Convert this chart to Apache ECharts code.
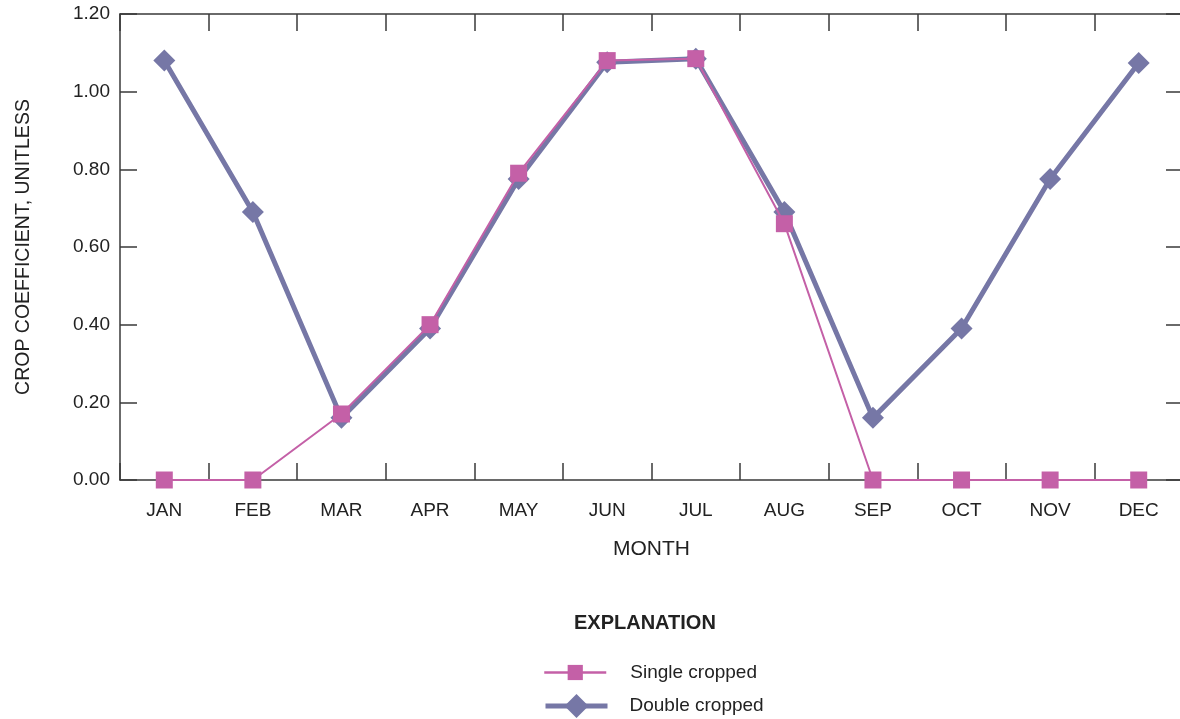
<!DOCTYPE html>
<html><head><meta charset="utf-8">
<script src="https://cdn.jsdelivr.net/npm/echarts@6/dist/echarts.min.js"></script>
<style>html,body{margin:0;padding:0;background:#fff}#c{width:1180px;height:719px}</style>
</head><body><div id="c"></div>
<script>
const months = ['JAN','FEB','MAR','APR','MAY','JUN','JUL','AUG','SEP','OCT','NOV','DEC'];
const singleCropped = [0, 0, 0.17, 0.40, 0.79, 1.08, 1.085, 0.66, 0, 0, 0, 0];
const doubleCropped = [1.08, 0.69, 0.16, 0.39, 0.775, 1.076, 1.085, 0.69, 0.16, 0.39, 0.775, 1.074];
const yTicks = {min: 0, max: 1.2, interval: 0.2};

const FONT = '"Liberation Sans Narrow", "Arial Narrow", "Liberation Sans", sans-serif';
const PINK = '#c460a7';
const PURPLE = '#7677a6';
const AX = '#3a3a3a';

const chart = echarts.init(document.getElementById('c'));
chart.setOption({
  animation: false,
  backgroundColor: '#fff',
  grid: {left: 120, top: 14, width: 1063, height: 466, containLabel: false, outerBoundsMode: 'none'},
  xAxis: [
    {type: 'category', data: months, position: 'bottom', boundaryGap: true,
     name: 'MONTH', nameLocation: 'middle', nameGap: 59,
     nameTextStyle: {fontFamily: FONT, fontSize: 21, color: '#222'},
     axisLine: {onZero: false, lineStyle: {color: AX, width: 1.5}},
     axisTick: {show: true, inside: true, length: 17, lineStyle: {color: AX, width: 1.5}},
     axisLabel: {fontFamily: FONT, fontSize: 19, color: '#222', margin: 21},
     splitLine: {show: false}},
    {type: 'category', data: months, position: 'top', boundaryGap: true,
     axisLine: {onZero: false, lineStyle: {color: AX, width: 1.5}},
     axisTick: {show: true, inside: true, length: 17, lineStyle: {color: AX, width: 1.5}},
     axisLabel: {show: false}, splitLine: {show: false}}
  ],
  yAxis: [
    {type: 'value', min: yTicks.min, max: yTicks.max, interval: yTicks.interval, position: 'left',
     name: 'CROP COEFFICIENT, UNITLESS', nameLocation: 'middle', nameGap: 86, nameRotate: 90,
     nameTextStyle: {fontFamily: FONT, fontSize: 19.5, color: '#222'},
     axisLine: {show: true, onZero: false, lineStyle: {color: AX, width: 1.5}},
     axisTick: {show: true, inside: true, length: 17, lineStyle: {color: AX, width: 1.5}},
     axisLabel: {fontFamily: FONT, fontSize: 19, color: '#222', margin: 10,
                 formatter: v => v.toFixed(2)},
     splitLine: {show: false}},
    {type: 'value', min: yTicks.min, max: yTicks.max, interval: yTicks.interval, position: 'right',
     axisLine: {show: true, onZero: false, lineStyle: {color: AX, width: 1.5}},
     axisTick: {show: true, inside: true, length: 17, lineStyle: {color: AX, width: 1.5}},
     axisLabel: {show: false}, splitLine: {show: false}}
  ],
  legend: [
    {left: 543, top: 663, padding: 0, itemWidth: 62, itemHeight: 19,
     data: [{name: 'Single cropped', lineStyle: {width: 2.5}}],
     textStyle: {fontFamily: FONT, fontSize: 19, color: '#222', padding: [0, 0, 0, 19]}},
    {left: 543, top: 694, padding: 0, itemWidth: 62, itemHeight: 30,
     data: [{name: 'Double cropped', lineStyle: {width: 5}}],
     textStyle: {fontFamily: FONT, fontSize: 19, color: '#222', padding: [0, 0, 0, 17]}}
  ],
  graphic: [{type: 'text', left: 574, top: 613,
    style: {text: 'EXPLANATION', font: 'bold 20px ' + FONT, fill: '#222'}}],
  series: [
    {name: 'Double cropped', type: 'line', data: doubleCropped, symbol: 'diamond', symbolSize: 22,
     showAllSymbol: true, lineStyle: {color: PURPLE, width: 5}, itemStyle: {color: PURPLE}, z: 2},
    {name: 'Single cropped', type: 'line', data: singleCropped, symbol: 'rect', symbolSize: 17,
     showAllSymbol: true, lineStyle: {color: PINK, width: 2}, itemStyle: {color: PINK}, z: 3}
  ]
});
</script></body></html>
